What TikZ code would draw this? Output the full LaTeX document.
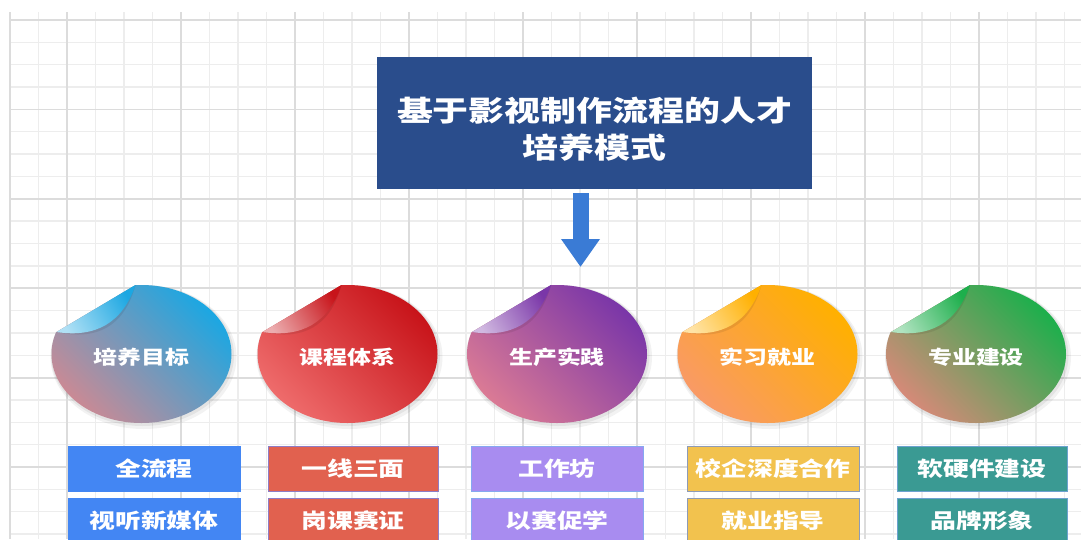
\documentclass[tikz,border=0pt]{standalone}
\usepackage{fontspec}
\setmainfont{Noto Sans CJK SC}[FakeStretch=1.26]
\usetikzlibrary{arrows.meta}
\definecolor{gridminor}{HTML}{EDEDED}
\definecolor{gridmajor}{HTML}{DCDCDC}
\definecolor{titleblue}{HTML}{2A4D8C}
\definecolor{arrowblue}{HTML}{3A7BD5}
\definecolor{cAmain}{HTML}{1CA7E2}\definecolor{cAlight}{HTML}{C98A95}
\definecolor{cBmain}{HTML}{C8141A}\definecolor{cBlight}{HTML}{EE6B6B}
\definecolor{cCmain}{HTML}{7A36A8}\definecolor{cClight}{HTML}{DA7A95}
\definecolor{cDmain}{HTML}{FFB000}\definecolor{cDlight}{HTML}{F99A65}
\definecolor{cEmain}{HTML}{1DAF4C}\definecolor{cElight}{HTML}{D48A78}
\definecolor{bxA}{HTML}{4386F3}\definecolor{bdA}{HTML}{4386F3}
\definecolor{bxB}{HTML}{E1614F}\definecolor{bdB}{HTML}{8E7CC4}
\definecolor{bxC}{HTML}{A88CF0}\definecolor{bdC}{HTML}{86A8F0}
\definecolor{bxD}{HTML}{F2C24E}\definecolor{bdD}{HTML}{8E9BB6}
\definecolor{bxE}{HTML}{3A9A93}\definecolor{bdE}{HTML}{6CA2CF}
\tikzset{
  minorline/.style={draw=gridminor, line width=1.4pt},
  majorline/.style={draw=gridmajor, line width=1.8pt},
  titlebox/.style={fill=titleblue, minimum width=435pt, minimum height=132pt, inner sep=0pt},
  titletext/.style={text=white, align=center, font=\bfseries\fontsize{28.5}{37}\selectfont, inner sep=0pt},
  stext/.style={text=white, font=\bfseries\fontsize{19}{19}\selectfont, inner sep=0pt},
  itembox/.style={minimum height=45pt, inner sep=0pt, text=white, line width=1pt,
    font=\bfseries\fontsize{20.5}{20.5}\selectfont},
  bigarrow/.style={draw=arrowblue, line width=16pt, -{Triangle[width=37pt,length=28pt]}},
}
\newcommand{\mysticker}[6]{%
  \begin{scope}[shift={(#2,#3)}]
    \begin{scope}
      \clip (-124.5,1.5) -- (33.5,-92.5) -- (130,-100) -- (130,110) -- (-130,110) -- cycle;
      \fill[black,opacity=0.05] (2,3) ellipse [x radius=93, y radius=72];
      \fill[black,opacity=0.06] (1,1.5) ellipse [x radius=91.5, y radius=70.5];
      \shade[top color=#4, bottom color=#5, shading angle=-45] (0,0) ellipse [x radius=90, y radius=69];
    \end{scope}
    \fill[black,opacity=0.08] (-85,-22) -- (-6,-69) .. controls (-17,-28) and (-44,-13) .. cycle;
    \shade[top color=#4, bottom color=white!65!#4, shading angle=-59]
      (-85,-22) -- (-6,-69) .. controls (-19,-31) and (-46,-16) .. cycle;
  \end{scope}
  \node[stext] (#1) at (#2,#3+3) {#6};
}
\begin{document}
\begin{tikzpicture}[x=1pt,y=-1pt]
\useasboundingbox (0,0) rectangle (1081,539);
\fill[white] (0,0) rectangle (1081,539);
% grid
\foreach \i in {0,...,37} { \draw[minorline] ({10+28.5*\i},12) -- ({10+28.5*\i},539); }
\foreach \j in {0,...,23} { \draw[minorline] (10,{20+22.35*\j}) -- (1081,{20+22.35*\j}); }
\foreach \k in {0,...,8} { \draw[majorline] ({67+114*\k},12) -- ({67+114*\k},539); }
\draw[majorline] (10,12) -- (10,539);
\foreach \k in {0,...,5} { \draw[majorline] (10,{20+89.4*\k}) -- (1081,{20+89.4*\k}); }
% title
\node[titlebox] (title) at (594.5,123) {};
\node[titletext] (titletext) at (594.5,129.5) {基于影视制作流程的人才\\培养模式};
% arrow
\coordinate (atip) at (580.5,267);
\draw[bigarrow] (title.south -| atip) ++(0,4) -- (atip);
% stickers
\mysticker{s1}{141.5}{354}{cAmain}{cAlight}{培养目标}
\mysticker{s2}{347.5}{354}{cBmain}{cBlight}{课程体系}
\mysticker{s3}{557}{354}{cCmain}{cClight}{生产实践}
\mysticker{s4}{767.5}{354}{cDmain}{cDlight}{实习就业}
\mysticker{s5}{976}{354}{cEmain}{cElight}{专业建设}
% boxes
\node[itembox, fill=bxA, draw=bdA, minimum width=172pt] (b1a) at (154,468.5) {全流程};
\node[itembox, fill=bxA, draw=bdA, minimum width=172pt] (b1b) at (154,520.5) {视听新媒体};
\node[itembox, fill=bxB, draw=bdB, minimum width=170pt] (b2a) at (353,468.5) {一线三面};
\node[itembox, fill=bxB, draw=bdB, minimum width=170pt] (b2b) at (353,520.5) {岗课赛证};
\node[itembox, fill=bxC, draw=bdC, minimum width=172pt] (b3a) at (557,468.5) {工作坊};
\node[itembox, fill=bxC, draw=bdC, minimum width=172pt] (b3b) at (557,520.5) {以赛促学};
\node[itembox, fill=bxD, draw=bdD, minimum width=172pt] (b4a) at (773,468.5) {校企深度合作};
\node[itembox, fill=bxD, draw=bdD, minimum width=172pt] (b4b) at (773,520.5) {就业指导};
\node[itembox, fill=bxE, draw=bdE, minimum width=170pt] (b5a) at (982,468.5) {软硬件建设};
\node[itembox, fill=bxE, draw=bdE, minimum width=170pt] (b5b) at (982,520.5) {品牌形象};
\end{tikzpicture}
\end{document}
